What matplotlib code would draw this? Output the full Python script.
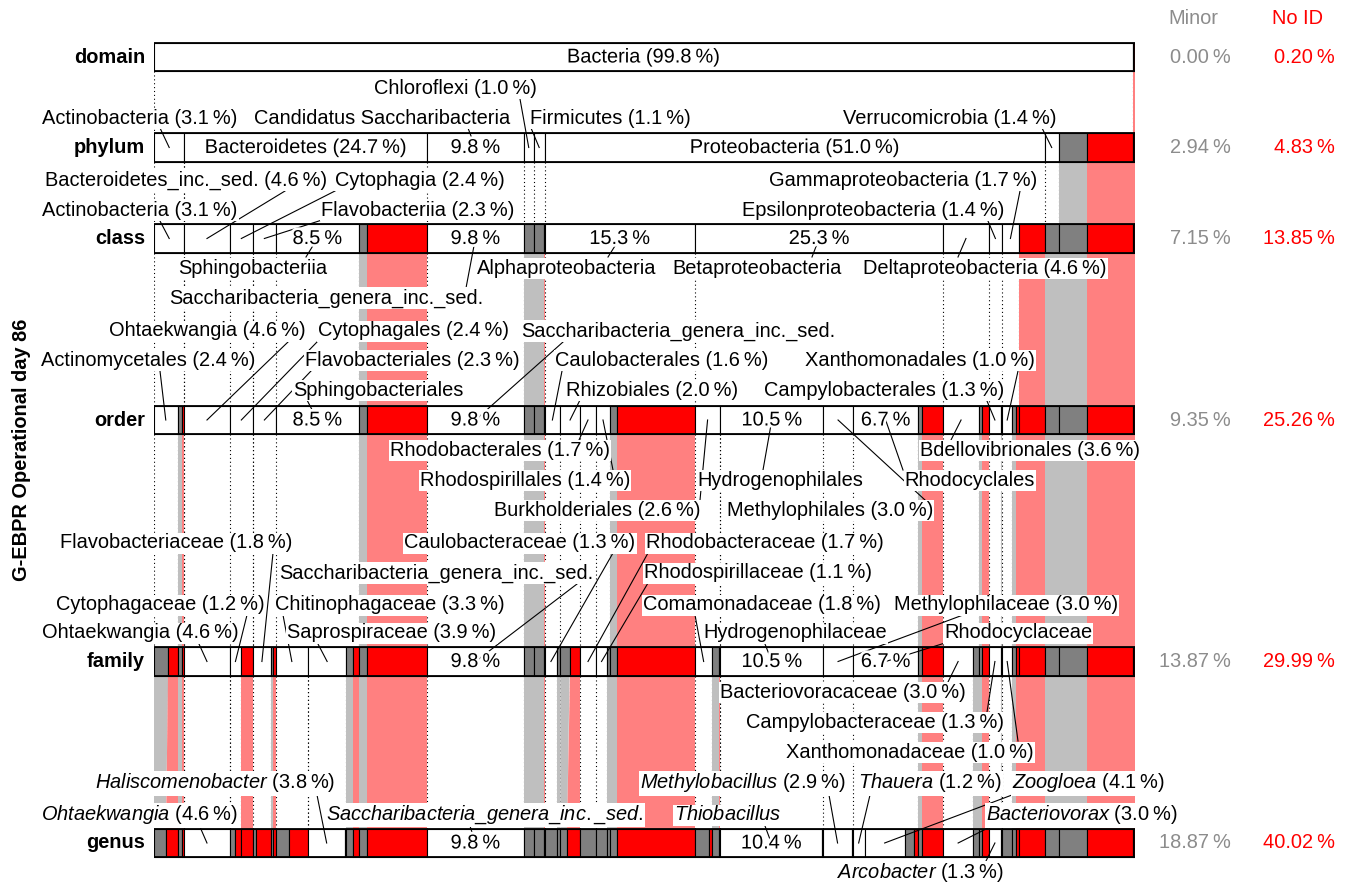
import numpy as np
import matplotlib
matplotlib.use("Agg")
import matplotlib.pyplot as plt
import matplotlib.patheffects as pe
from matplotlib.patches import Rectangle, Polygon

plt.rcParams["font.family"] = ["Liberation Sans", "DejaVu Sans"]
plt.rcParams["font.size"] = 14.4
plt.rcParams["mathtext.fontset"] = "custom"
plt.rcParams["mathtext.it"] = "Liberation Sans:italic"
plt.rcParams["mathtext.rm"] = "Liberation Sans"

# ---- data ----------------------------------------------------------------
ranks = ["domain", "phylum", "class", "order", "family", "genus"]
minor_pct = [0.00, 2.94, 7.15, 9.35, 13.87, 18.87]
noid_pct = [0.20, 4.83, 13.85, 25.26, 29.99, 40.02]

# (taxon, percent, kind): "t" = named taxon, "m" = minor, "n" = no id
# for "m" / "n" the name is the parent taxon the part belongs to
tail = [("Bacteria", 2.94, "m"), ("Bacteria", 4.65, "n"), ("root", 0.2, "n")]

domain_row = [("Bacteria", 99.8, "t"), ("root", 0.2, "n")]

phylum_row = [
    ("Actinobacteria", 3.1, "t"), ("Bacteroidetes", 24.74, "t"),
    ("Candidatus Saccharibacteria", 9.84, "t"), ("Chloroflexi", 1.04, "t"),
    ("Firmicutes", 1.09, "t"), ("Proteobacteria", 51.0, "t"),
    ("Verrucomicrobia", 1.4, "t"),
] + tail

class_row = [
    ("Actinobacteria", 3.1, "t"),
    ("Bacteroidetes_inc._sed.", 4.6, "t"), ("Cytophagia", 2.4, "t"),
    ("Flavobacteriia", 2.3, "t"), ("Sphingobacteriia", 8.5, "t"),
    ("Bacteroidetes", 0.85, "m"), ("Bacteroidetes", 6.09, "n"),
    ("Saccharibacteria_genera_inc._sed.", 9.84, "t"),
    ("Chloroflexi", 1.04, "m"), ("Firmicutes", 1.04, "m"), ("Firmicutes", 0.05, "n"),
    ("Alphaproteobacteria", 15.32, "t"), ("Betaproteobacteria", 25.34, "t"),
    ("Deltaproteobacteria", 4.6, "t"), ("Epsilonproteobacteria", 1.4, "t"),
    ("Gammaproteobacteria", 1.66, "t"), ("Proteobacteria", 2.68, "n"),
    ("Verrucomicrobia", 1.4, "m"),
] + tail

order_row = [
    ("Actinomycetales", 2.4, "t"), ("Actinobacteria", 0.45, "m"), ("Actinobacteria", 0.25, "n"),
    ("Ohtaekwangia", 4.6, "t"), ("Cytophagales", 2.4, "t"),
    ("Flavobacteriales", 2.3, "t"), ("Sphingobacteriales", 8.5, "t"),
    ("Bacteroidetes", 0.85, "m"), ("Bacteroidetes", 6.09, "n"),
    ("Saccharibacteria_genera_inc._sed.", 9.84, "t"),
    ("Chloroflexi", 1.04, "m"), ("Firmicutes", 1.04, "m"), ("Firmicutes", 0.05, "n"),
    ("Caulobacterales", 1.6, "t"), ("Rhizobiales", 2.0, "t"),
    ("Rhodobacterales", 1.66, "t"), ("Rhodospirillales", 1.4, "t"),
    ("Alphaproteobacteria", 0.7, "m"), ("Alphaproteobacteria", 7.96, "n"),
    ("Burkholderiales", 2.6, "t"), ("Hydrogenophilales", 10.5, "t"),
    ("Methylophilales", 3.0, "t"), ("Rhodocyclales", 6.7, "t"),
    ("Betaproteobacteria", 0.35, "m"), ("Betaproteobacteria", 2.19, "n"),
    ("Bdellovibrionales", 3.6, "t"),
    ("Deltaproteobacteria", 0.3, "m"), ("Deltaproteobacteria", 0.7, "n"),
    ("Campylobacterales", 1.3, "t"), ("Epsilonproteobacteria", 0.1, "m"),
    ("Xanthomonadales", 1.0, "t"),
    ("Gammaproteobacteria", 0.45, "m"), ("Gammaproteobacteria", 0.21, "n"),
    ("Proteobacteria", 2.68, "n"), ("Verrucomicrobia", 1.4, "m"),
] + tail

family_row = [
    ("Actinomycetales", 1.45, "m"), ("Actinomycetales", 0.95, "n"),
    ("Actinobacteria", 0.45, "m"), ("Actinobacteria", 0.25, "n"),
    ("Ohtaekwangia", 4.6, "t"),
    ("Cytophagaceae", 1.2, "t"), ("Cytophagales", 1.2, "n"),
    ("Flavobacteriaceae", 1.8, "t"), ("Flavobacteriales", 0.2, "m"), ("Flavobacteriales", 0.3, "n"),
    ("Chitinophagaceae", 3.3, "t"), ("Saprospiraceae", 3.9, "t"),
    ("Sphingobacteriales", 0.7, "m"), ("Sphingobacteriales", 0.6, "n"),
    ("Bacteroidetes", 0.85, "m"), ("Bacteroidetes", 6.09, "n"),
    ("Saccharibacteria_genera_inc._sed.", 9.84, "t"),
    ("Chloroflexi", 1.04, "m"), ("Firmicutes", 1.04, "m"), ("Firmicutes", 0.05, "n"),
    ("Caulobacteraceae", 1.3, "t"), ("Caulobacterales", 0.3, "m"),
    ("Rhizobiales", 0.95, "m"), ("Rhizobiales", 1.05, "n"),
    ("Rhodobacteraceae", 1.66, "t"),
    ("Rhodospirillaceae", 1.1, "t"), ("Rhodospirillales", 0.3, "m"),
    ("Alphaproteobacteria", 0.7, "m"), ("Alphaproteobacteria", 7.96, "n"),
    ("Comamonadaceae", 1.8, "t"), ("Burkholderiales", 0.65, "m"), ("Burkholderiales", 0.15, "n"),
    ("Hydrogenophilaceae", 10.5, "t"), ("Methylophilaceae", 3.0, "t"),
    ("Rhodocyclaceae", 6.7, "t"),
    ("Betaproteobacteria", 0.35, "m"), ("Betaproteobacteria", 2.19, "n"),
    ("Bacteriovoracaceae", 3.0, "t"), ("Bdellovibrionales", 0.6, "m"),
    ("Deltaproteobacteria", 0.3, "m"), ("Deltaproteobacteria", 0.7, "n"),
    ("Campylobacteraceae", 1.3, "t"), ("Epsilonproteobacteria", 0.1, "m"),
    ("Xanthomonadaceae", 1.0, "t"),
    ("Gammaproteobacteria", 0.45, "m"), ("Gammaproteobacteria", 0.21, "n"),
    ("Proteobacteria", 2.68, "n"), ("Verrucomicrobia", 1.4, "m"),
] + tail

genus_row = [
    ("Actinomycetales", 1.2, "m"), ("Actinomycetales", 1.2, "n"),
    ("Actinobacteria", 0.45, "m"), ("Actinobacteria", 0.25, "n"),
    ("Ohtaekwangia", 4.6, "t"),
    ("Cytophagaceae", 0.6, "m"), ("Cytophagaceae", 0.6, "n"), ("Cytophagales", 1.2, "n"),
    ("Flavobacteriaceae", 0.3, "m"), ("Flavobacteriaceae", 1.5, "n"),
    ("Flavobacteriales", 0.2, "m"), ("Flavobacteriales", 0.3, "n"),
    ("Chitinophagaceae", 1.4, "m"), ("Chitinophagaceae", 1.9, "n"),
    ("Haliscomenobacter", 3.8, "t"), ("Saprospiraceae", 0.1, "m"),
    ("Sphingobacteriales", 0.7, "m"), ("Sphingobacteriales", 0.6, "n"),
    ("Bacteroidetes", 0.85, "m"), ("Bacteroidetes", 6.09, "n"),
    ("Saccharibacteria_genera_inc._sed.", 9.84, "t"),
    ("Chloroflexi", 1.04, "m"), ("Firmicutes", 1.04, "m"), ("Firmicutes", 0.05, "n"),
    ("Caulobacteraceae", 1.3, "m"), ("Caulobacterales", 0.3, "m"),
    ("Rhizobiales", 0.7, "m"), ("Rhizobiales", 1.3, "n"),
    ("Rhodobacteraceae", 1.66, "m"),
    ("Rhodospirillaceae", 1.1, "m"), ("Rhodospirillales", 0.3, "m"),
    ("Alphaproteobacteria", 0.7, "m"), ("Alphaproteobacteria", 7.96, "n"),
    ("Comamonadaceae", 1.4, "m"), ("Comamonadaceae", 0.4, "n"),
    ("Burkholderiales", 0.65, "m"), ("Burkholderiales", 0.15, "n"),
    ("Thiobacillus", 10.4, "t"), ("Hydrogenophilaceae", 0.1, "m"),
    ("Methylobacillus", 2.9, "t"), ("Methylophilaceae", 0.1, "m"),
    ("Thauera", 1.2, "t"), ("Zoogloea", 4.1, "t"),
    ("Rhodocyclaceae", 0.9, "m"), ("Rhodocyclaceae", 0.5, "n"),
    ("Betaproteobacteria", 0.35, "m"), ("Betaproteobacteria", 2.19, "n"),
    ("Bacteriovorax", 3.0, "t"), ("Bdellovibrionales", 0.6, "m"),
    ("Deltaproteobacteria", 0.3, "m"), ("Deltaproteobacteria", 0.7, "n"),
    ("Arcobacter", 1.3, "t"), ("Epsilonproteobacteria", 0.1, "m"),
    ("Xanthomonadaceae", 1.0, "m"),
    ("Gammaproteobacteria", 0.45, "m"), ("Gammaproteobacteria", 0.21, "n"),
    ("Proteobacteria", 2.68, "n"), ("Verrucomicrobia", 1.4, "m"),
] + tail

rows = [domain_row, phylum_row, class_row, order_row, family_row, genus_row]

# ---- layout (pixel positions) -------------------------------------------
W, H = 1348, 886
BAR_L, BAR_R = 154, 1135
row_y = [57, 147.5, 238.5, 420, 661.5, 843]
bar_h = 28.5

# label mode, text centre (x, y), leader start (x, y)
labels = [
    {"Bacteria": ("in",)},
    {"Chloroflexi": ("out", 455, 88, 520, 99),
     "Actinobacteria": ("out", 140, 118, 160, 128),
     "Candidatus Saccharibacteria": ("split", 382, 118, 468, 128),
     "Firmicutes": ("out", 610, 118, 531, 128),
     "Verrucomicrobia": ("out", 950, 118, 1042, 128),
     "Bacteroidetes": ("in",), "Proteobacteria": ("in",)},
    {"Bacteroidetes_inc._sed.": ("out", 186, 180, 285, 191),
     "Cytophagia": ("out", 420, 180, 335, 191),
     "Gammaproteobacteria": ("out", 903, 180, 1020, 191),
     "Actinobacteria": ("out", 140, 210, 160, 221),
     "Flavobacteriia": ("out", 418, 210, 322, 220),
     "Epsilonproteobacteria": ("out", 873, 210, 988, 221),
     "Sphingobacteriia": ("split", 253, 268, 306, 257),
     "Alphaproteobacteria": ("split", 567, 268, 608, 257),
     "Betaproteobacteria": ("split", 757, 268, 812, 257),
     "Deltaproteobacteria": ("out", 985, 268, 958, 257),
     "Saccharibacteria_genera_inc._sed.": ("split", 326, 298, 466, 288)},
    {"Ohtaekwangia": ("out", 207, 331, 288, 342),
     "Cytophagales": ("out", 413, 331, 317, 342),
     "Saccharibacteria_genera_inc._sed.": ("split", 678, 331, 563, 342),
     "Actinomycetales": ("out", 148, 360, 160, 371),
     "Flavobacteriales": ("out", 412, 360, 311, 371),
     "Caulobacterales": ("out", 662, 360, 562, 371),
     "Xanthomonadales": ("out", 920, 360, 1018, 371),
     "Sphingobacteriales": ("split", 378, 390, 307, 400),
     "Rhizobiales": ("out", 652, 390, 580, 400),
     "Campylobacterales": ("out", 884, 390, 987, 401),
     "Rhodobacterales": ("out", 500, 450, 579, 440),
     "Bdellovibrionales": ("out", 1030, 450, 951, 440),
     "Rhodospirillales": ("out", 525, 480, 613, 470),
     "Hydrogenophilales": ("split", 780, 480, 763, 470),
     "Rhodocyclales": ("split", 970, 480, 903, 470),
     "Burkholderiales": ("out", 597, 510, 700, 500),
     "Methylophilales": ("out", 830, 510, 925, 500)},
    {"Flavobacteriaceae": ("out", 176, 543, 273, 553),
     "Caulobacteraceae": ("out", 520, 543, 613, 553),
     "Rhodobacteraceae": ("out", 765, 543, 648, 553),
     "Saccharibacteria_genera_inc._sed.": ("split", 436, 573, 577, 584),
     "Rhodospirillaceae": ("out", 758, 573, 648, 583),
     "Cytophagaceae": ("out", 160, 605, 247, 615),
     "Chitinophagaceae": ("out", 390, 605, 283, 615),
     "Comamonadaceae": ("out", 762, 605, 695, 615),
     "Methylophilaceae": ("out", 1006, 605, 963, 615),
     "Ohtaekwangia": ("out", 140, 633, 199, 644),
     "Saprospiraceae": ("out", 392, 633, 318, 644),
     "Hydrogenophilaceae": ("split", 795, 633, 765, 644),
     "Rhodocyclaceae": ("split", 1018, 633, 945, 643),
     "Bacteriovoracaceae": ("out", 843, 692, 948, 682),
     "Campylobacteraceae": ("out", 875, 722, 987, 712),
     "Xanthomonadaceae": ("out", 910, 752, 1018, 741)},
    {"Haliscomenobacter": ("out", 215, 783, 317, 795),
     "Methylobacillus": ("out", 743, 783, 829, 795),
     "Thauera": ("out", 930, 783, 870, 795),
     "Zoogloea": ("out", 1088, 783, 1012, 795),
     "Ohtaekwangia": ("out", 140, 815, 200, 827),
     "Saccharibacteria_genera_inc._sed.": ("split", 485, 815, 470, 826),
     "Thiobacillus": ("split", 728, 815, 765, 826),
     "Bacteriovorax": ("out", 1082, 815, 990, 827),
     "Arcobacter": ("out", 920, 873, 985, 863)},
]

FILL = {"t": "white", "m": "#808080", "n": "#ff0000"}
SHADE = {"m": "#bfbfbf", "n": "#ff8080"}
GREY_TXT = "#8c8c8c"


def px2x(p):
    return (p - BAR_L) / (BAR_R - BAR_L) * 100


def pct(v):
    return f"{v:.1f}\u2009%"


def name_txt(name, italic):
    if not italic:
        return name
    return r"$\mathit{" + name.replace("_", r"\_") + "}$"


def edges(row):
    vals = np.array([r[1] for r in row])
    right = np.cumsum(vals)
    return right - vals, right


fig = plt.figure(figsize=(W / 100, H / 100), dpi=100)
ax = fig.add_axes([BAR_L / W, 0, (BAR_R - BAR_L) / W, 1])
ax.set_xlim(0, 100)
ax.set_ylim(H, 0)
ax.axis("off")

# gaps: dotted boundary lines and minor / no id shading
for k in range(len(rows) - 1):
    up, lo = rows[k], rows[k + 1]
    ul, ur = edges(up)
    ll, lr = edges(lo)
    yb = row_y[k] + bar_h / 2
    yt = row_y[k + 1] - bar_h / 2
    for xb in np.unique(np.concatenate([ul, ur])):
        ax.plot([xb, xb], [yb, yt], color="black", lw=0.8,
                ls=(0, (1, 2.5)), zorder=1)
    lower_keys = {(r[0], r[2]): i for i, r in enumerate(lo) if r[2] != "t"}
    for i, (nm, v, kind) in enumerate(up):
        if kind == "t":
            continue
        j = lower_keys[(nm, kind)]
        ax.add_patch(Polygon([(ul[i], yb), (ur[i], yb), (lr[j], yt), (ll[j], yt)],
                             closed=True, fc=SHADE[kind], ec="none", zorder=2))

# bars
for k, row in enumerate(rows):
    left, right = edges(row)
    y0 = row_y[k] - bar_h / 2
    for (nm, v, kind), x0 in zip(row, left):
        ax.add_patch(Rectangle((x0, y0), v, bar_h, fc=FILL[kind], ec="black",
                               lw=0.8, zorder=3))
    ax.add_patch(Rectangle((0, y0), right[-1], bar_h, fc="none", ec="black",
                           lw=1.3, zorder=3.5))
    ax.text(px2x(145), row_y[k], ranks[k], ha="right", va="center",
            fontweight="bold", zorder=5)
    ax.text(px2x(1231), row_y[k], f"{minor_pct[k]:.2f}\u2009%", ha="right",
            va="center", color=GREY_TXT)
    ax.text(px2x(1335), row_y[k], f"{noid_pct[k]:.2f}\u2009%", ha="right",
            va="center", color="red")

    italic = ranks[k] == "genus"
    for (nm, v, kind), x0 in zip(row, left):
        if kind != "t" or nm not in labels[k]:
            continue
        spec = labels[k][nm]
        cx = x0 + v / 2
        halo = [pe.withStroke(linewidth=4, foreground="white")]
        if spec[0] == "in":
            ax.text(cx, row_y[k], f"{name_txt(nm, italic)} ({pct(v)})",
                    ha="center", va="center", zorder=6, path_effects=halo)
            continue
        mode, tx, ty, sx, sy = spec
        ax.plot([px2x(sx), cx], [sy, row_y[k]], color="black", lw=0.8, zorder=4)
        if mode == "split":
            txt = name_txt(nm, italic)
            ax.text(cx, row_y[k], pct(v), ha="center", va="center",
                    zorder=6, path_effects=halo)
        else:
            txt = f"{name_txt(nm, italic)} ({pct(v)})"
        ax.text(px2x(tx), ty, txt, ha="center", va="center", zorder=5,
                bbox=dict(boxstyle="square,pad=0.05", fc="white", ec="none"))

ax.text(px2x(1193), 18, "Minor", ha="center", va="center", color=GREY_TXT)
ax.text(px2x(1297), 18, "No ID", ha="center", va="center", color="red")
ax.text(px2x(22), 450, "G-EBPR Operational day 86", rotation=90, ha="center",
        va="center", fontweight="bold")

fig.savefig("out.png", dpi=100)
